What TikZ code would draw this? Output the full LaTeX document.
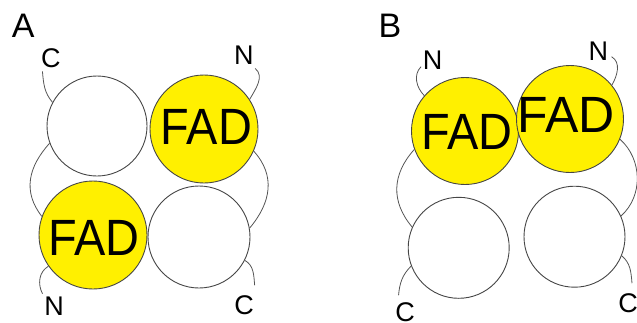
\documentclass[tikz,border=0pt]{standalone}
\usepackage{fontspec}
\usepackage{graphicx}
\setmainfont{Liberation Sans}
\definecolor{fadyellow}{RGB}{255,240,0}
\definecolor{rimgray}{RGB}{70,70,70}
\definecolor{linkgray}{RGB}{85,85,85}
\tikzset{
  dom/.style={circle, inner sep=0pt, draw=rimgray, line width=0.9pt, fill=white},
  fad/.style={dom, fill=fadyellow},
  fadtext/.style={inner sep=0pt, font=\fontsize{51}{51}\selectfont},
  term/.style={inner sep=0pt, font=\fontsize{27}{27}\selectfont},
  panel/.style={inner sep=0pt, font=\fontsize{34}{34}\selectfont},
  link/.style={draw=linkgray, line width=0.8pt}
}
\begin{document}
\begin{tikzpicture}[x=1pt,y=1pt]
\path[use as bounding box] (0,0) rectangle (637,-322);

% ---------- Panel A ----------
\node[panel] (labA) at (23.3,-25.8) {A};
\node[term] (cA1) at (50.8,-58.3) {C};
\node[term] (nA1) at (243.8,-55) {N};
\node[term] (nA2) at (54,-306.7) {N};
\node[term] (cA2) at (244,-305) {C};

\node[dom, minimum size=100pt] (tlA) at (97,-126) {};
\node[fad, minimum size=108pt] (trA) at (204,-129) {};
\node[fad, minimum size=108pt] (blA) at (93,-235) {};
\node[dom, minimum size=102pt] (brA) at (199,-237) {};
\node[fadtext] (fadA1) at (206.3,-126.7) {\scalebox{0.92}[1]{FAD}};
\node[fadtext] (fadA2) at (94.2,-238.3) {\scalebox{0.92}[1]{FAD}};

\draw[link] ([shift={(1.6,-3.4)}]cA1.south west) to[out=-85,in=130] (tlA.152);
\draw[link] ([shift={(1.5,-4)}]nA1.south east) to[out=-40,in=60] (trA.33);
\draw[link] (tlA.200) to[out=228,in=128,looseness=1.1] (blA.160);
\draw[link] (trA.-24) to[out=-48,in=50,looseness=1.1] (brA.10);
\draw[link] (blA.215) to[out=210,in=118] ([shift={(-1.5,3.4)}]nA2.north west);
\draw[link] (brA.-27) to[out=-30,in=95] ([shift={(0.7,10)}]cA2.north east);

% ---------- Panel B ----------
\node[panel] (labB) at (390,-25.8) {B};
\node[term] (nB1) at (432.5,-60) {N};
\node[term] (nB2) at (598.3,-50.8) {N};
\node[term] (cB1) at (405,-312) {C};
\node[term] (cB2) at (628,-303) {C};

\node[fad, minimum size=107pt] (lyB) at (465,-131) {};
\node[fad, minimum size=107pt] (ryB) at (570,-119) {};
\node[dom, minimum size=101pt] (lwB) at (458.7,-247.8) {};
\node[dom, minimum size=101pt] (rwB) at (574.5,-236.7) {};
\node[fadtext] (fadB1) at (467,-131.7) {\scalebox{0.92}[1]{FAD}};
\node[fadtext] (fadB2) at (566,-115) {\scalebox{0.98}[1]{FAD}};

\draw[link] ([shift={(-1.5,-6.7)}]nB1.west) to[out=225,in=135] (lyB.139);
\draw[link] ([shift={(3.3,-5.9)}]nB2.east) to[out=-30,in=60] (ryB.39);
\draw[link] (lyB.200) to[out=228,in=130,looseness=1.1] (lwB.156);
\draw[link] (ryB.-22) to[out=-42,in=42] (rwB.24);
\draw[link] (lwB.201) to[out=225,in=85] ([shift={(3.5,7)}]cB1.north west);
\draw[link] (rwB.-22) to[out=-40,in=95] ([shift={(4,10)}]cB2.north);
\end{tikzpicture}
\end{document}
